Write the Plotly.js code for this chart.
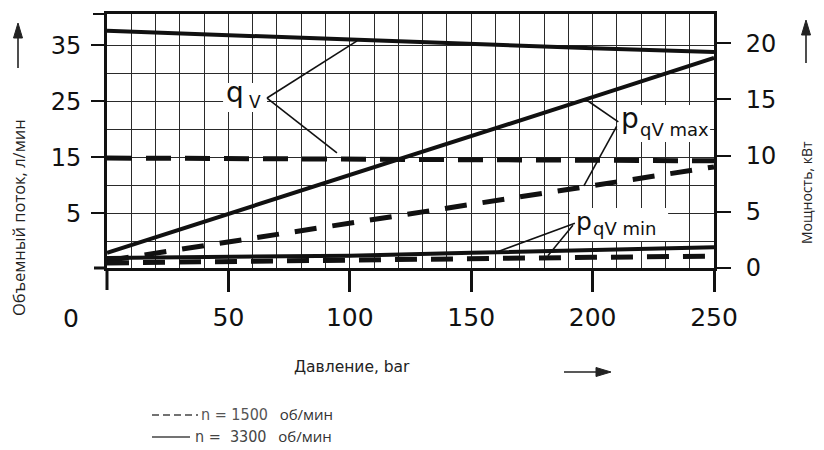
<!DOCTYPE html>
<html>
<head>
<meta charset="utf-8">
<script src="https://cdn.plot.ly/plotly-3.0.1.min.js"></script>
<style>html,body{margin:0;padding:0;background:#fff;}#chart{width:824px;height:450px;}</style>
</head>
<body>
<div id="chart"></div>
<script>
// ---- data ----
const pressure = [0, 50, 100, 150, 200, 250];              // bar
// volumetric flow, l/min (left axis)
const qv_n3300 = [37.6, 36.8, 36.0, 35.3, 34.5, 33.8];
const qv_n1500 = [14.9, 14.8, 14.7, 14.6, 14.5, 14.4];
// power at qV max, kW (right axis)
const pmax_n3300 = [1.35, 4.8, 8.3, 11.75, 15.2, 18.7];
const pmax_n1500 = [0.65, 2.3, 3.95, 5.65, 7.35, 9.0];
// power at qV min, kW (right axis)
const pmin_n3300 = [0.9, 1.0, 1.1, 1.35, 1.6, 1.85];
const pmin_n1500 = [0.45, 0.6, 0.75, 0.85, 0.95, 1.05];

const xTickVals = [50, 100, 150, 200, 250];
const xTickText = ['50', '100', '150', '200', '250'];
const yLeftTickVals = [5, 15, 25, 35];
const yLeftTickText = ['5', '15', '25', '35'];
const yLeftMinorVals = [0, 10, 20, 30];
const yRightTickVals = [0, 5, 10, 15, 20];
const yRightTickText = ['0', '5', '10', '15', '20'];

// ---- layout helpers ----
const L = 107, R = 714, T = 14, B = 268;
const PX = p => (p - L) / (R - L);
const PY = p => (B - p) / (B - T);

const black = '#111';
const tickFamily = 'DejaVu Sans, Liberation Sans, sans-serif';
const tickFont = {family: tickFamily, size: 24, color: black};

function line(x, y, yaxis, width, dash) {
  return {x: x, y: y, yaxis: yaxis, type: 'scatter', mode: 'lines',
          line: {color: black, width: width, dash: dash || 'solid'},
          hoverinfo: 'skip', showlegend: false};
}

const traces = [
  line(pressure, qv_n3300, 'y', 4),
  line(pressure, qv_n1500, 'y', 5, '25px,14px'),
  line(pressure, pmax_n3300, 'y2', 4),
  line(pressure, pmax_n1500, 'y2', 5, '22px,16px'),
  line(pressure, pmin_n3300, 'y2', 4),
  line(pressure, pmin_n1500, 'y2', 5, '22px,14px')
];

const box = (x0, x1, y0, y1, yref) => ({type: 'rect', xref: 'x', yref: yref,
  x0: x0, x1: x1, y0: y0, y1: y1, fillcolor: '#fff', line: {width: 0}});

const leader = (x0, y0, x1, y1, yref) => ({type: 'line', xref: 'x', yref: yref,
  x0: x0, y0: y0, x1: x1, y1: y1, line: {color: black, width: 1.6}});

const pline = (x0, y0, x1, y1, w, c, dash) => ({type: 'line', xref: 'paper', yref: 'paper',
  x0: PX(x0), y0: PY(y0), x1: PX(x1), y1: PY(y1), line: {color: c || black, width: w, dash: dash || 'solid'}});

const tri = (pts) => ({type: 'path', xref: 'paper', yref: 'paper',
  path: 'M' + pts.map(p => PX(p[0]) + ',' + PY(p[1])).join(' L') + ' Z',
  fillcolor: '#222', line: {color: '#222', width: 1}});

const shapes = [
  // white label backgrounds (hide the grid behind the labels)
  box(47.8, 65.9, 23.1, 28.3, 'y'),
  box(210.2, 248.4, 11.2, 14.5, 'y2'),
  box(190.7, 231.1, 2.4, 5.34, 'y2'),
  // leader lines
  leader(65.9, 25.6, 103, 35.8, 'y'),
  leader(65.9, 25.6, 94.7, 15.8, 'y'),
  leader(210.6, 13.0, 197.5, 14.95, 'y2'),
  leader(209.9, 12.6, 196.4, 7.3, 'y2'),
  leader(192.7, 3.98, 160.6, 1.42, 'y2'),
  leader(191.9, 3.8, 181.6, 1.1, 'y2'),
  // frame extensions (tick at origin, corner ticks)
  pline(107, 268, 107, 290, 3),
  pline(94, 268, 107, 268, 3),
  pline(93, 14, 107, 14, 2),
  // legend line samples
  pline(152, 415, 198, 415, 1.3, '#444', '7px,4px'),
  pline(152, 437, 190, 437, 1.3, '#444'),
  // axis direction arrows
  pline(18, 68, 18, 36, 1.6, '#222'),
  tri([[18, 23], [13.5, 38], [22.5, 38]]),
  pline(806, 63, 806, 33, 1.6, '#222'),
  tri([[806, 20], [801.5, 35], [810.5, 35]]),
  pline(564, 372, 597, 372, 1.6, '#222'),
  tri([[611, 372], [596, 367.5], [596, 376.5]])
];

const lab = (x, y, yref, text, size, xanchor) => ({xref: 'x', yref: yref, x: x, y: y, text: text,
  showarrow: false, xanchor: xanchor || 'center', yanchor: 'middle',
  font: {family: tickFamily, size: size, color: black}});

const txt = (px, py, text, size, extra) => Object.assign({xref: 'paper', yref: 'paper',
  x: PX(px), y: PY(py), text: text, showarrow: false, xanchor: 'center', yanchor: 'middle',
  font: {family: 'Open Sans, Noto Sans, sans-serif', size: size, color: '#222'}}, extra || {});

const annotations = [
  // curve labels: main letter + subscript
  lab(52.9, 26.6, 'y', 'q', 28),
  lab(61.0, 24.9, 'y', 'V', 17),
  lab(215.4, 13.29, 'y2', 'p', 28),
  lab(218.7, 12.36, 'y2', 'qV max', 18, 'left'),
  lab(196.3, 4.11, 'y2', 'p', 25),
  lab(199.3, 3.49, 'y2', 'qV min', 18, 'left'),
  // origin label
  txt(71, 318, '0', 25, {font: {family: tickFamily, size: 25, color: black}}),
  // axis titles
  txt(18, 218, 'Объемный поток, л/мин', 16.5, {textangle: -90}),
  txt(806, 193, 'Мощность, кВт', 14, {textangle: -90}),
  txt(352, 367, 'Давление, bar', 15.5, {font: {family: tickFamily, size: 15.5, color: '#222'}}),
  // legend text
  txt(199, 414, '<span style="font-family:Liberation Sans Narrow, DejaVu Sans Condensed, sans-serif;font-size:16px;color:#555">n = 1500</span>\u00a0\u00a0\u00a0об/мин',
      15, {xanchor: 'left', font: {family: 'Open Sans, sans-serif', size: 15, color: '#333'}}),
  txt(193, 436, '<span style="font-family:Liberation Sans Narrow, DejaVu Sans Condensed, sans-serif;font-size:16px;color:#444">n =\u00a0\u00a03300</span>\u00a0\u00a0\u00a0об/мин',
      15, {xanchor: 'left', font: {family: 'Open Sans, sans-serif', size: 15, color: '#333'}})
];

const layout = {
  width: 824, height: 450,
  margin: {l: L, r: 824 - R, t: T, b: 450 - B, pad: 0},
  paper_bgcolor: '#fff', plot_bgcolor: '#fff',
  showlegend: false,
  xaxis: {
    range: [0, 250], tickmode: 'array', tickvals: xTickVals, ticktext: xTickText,
    ticks: 'outside', ticklen: 21, tickwidth: 3, tickcolor: black,
    showline: true, linewidth: 3, linecolor: black, mirror: true,
    showgrid: true, gridcolor: '#2a2a2a', gridwidth: 1, zeroline: false,
    minor: {dtick: 10, tick0: 0, showgrid: true, gridcolor: '#2a2a2a', gridwidth: 1, ticks: ''},
    tickfont: {family: tickFamily, size: 25, color: black}, ticklabelstandoff: 4,
    automargin: false, fixedrange: true
  },
  yaxis: {
    range: [-4.73, 40.6], tickmode: 'array', tickvals: yLeftTickVals, ticktext: yLeftTickText,
    ticks: 'outside', ticklen: 13, tickwidth: 2, tickcolor: black,
    showline: true, linewidth: 3, linecolor: black,
    showgrid: true, gridcolor: '#2a2a2a', gridwidth: 1, zeroline: false,
    minor: {tickmode: 'array', tickvals: yLeftMinorVals, showgrid: true, gridcolor: '#2a2a2a', gridwidth: 1, ticks: ''},
    tickfont: tickFont, ticklabelstandoff: 5, automargin: false, fixedrange: true
  },
  yaxis2: {
    overlaying: 'y', side: 'right', range: [0, 22.6],
    tickmode: 'array', tickvals: yRightTickVals, ticktext: yRightTickText,
    ticks: 'outside', ticklen: 14, tickwidth: 2, tickcolor: black,
    showline: true, linewidth: 3, linecolor: black,
    showgrid: false, zeroline: false,
    tickfont: tickFont, ticklabelstandoff: 10, automargin: false, fixedrange: true
  },
  shapes: shapes,
  annotations: annotations
};

Plotly.newPlot('chart', traces, layout, {displayModeBar: false, staticPlot: true});
</script>
</body>
</html>
